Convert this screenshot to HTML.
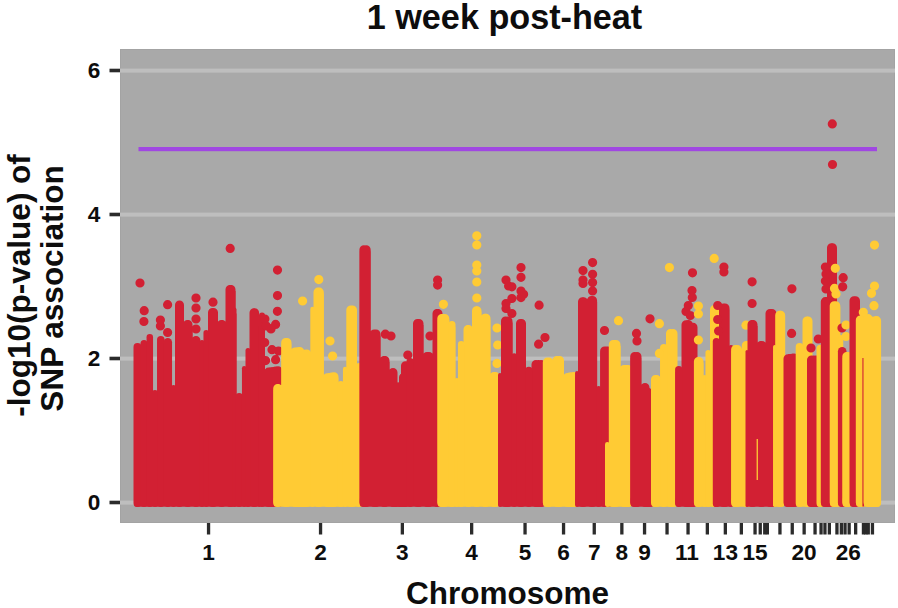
<!DOCTYPE html>
<html><head><meta charset="utf-8"><title>1 week post-heat</title>
<style>
html,body{margin:0;padding:0;background:#fff;}
body{width:898px;height:608px;overflow:hidden;font-family:"Liberation Sans",sans-serif;}
svg{display:block;}
text{font-family:"Liberation Sans",sans-serif;font-weight:bold;fill:#0d0d0d;}
.tk{font-size:22.6px;}
.ti{font-size:34.2px;}
.xl{font-size:31.5px;}
</style></head><body>
<svg width="898" height="608" viewBox="0 0 898 608">
<rect x="0" y="0" width="898" height="608" fill="#fff"/>
<rect x="120" y="49" width="775" height="474" fill="#A9A9A9"/>
<rect x="120.5" y="49.5" width="774.0" height="473.0" fill="none" stroke="#a3a3a3" stroke-width="1"/>
<rect x="120" y="500.6" width="775" height="4" fill="#BEBEBE"/>
<rect x="120" y="356.6" width="775" height="4" fill="#BEBEBE"/>
<rect x="120" y="212.6" width="775" height="4" fill="#BEBEBE"/>
<rect x="120" y="68.6" width="775" height="4" fill="#BEBEBE"/>
<path d="M134 503.5L134 349L134 349L141 349L141 346L147 346L147 340L153 340L153 396L157.5 396L157.5 342L164.5 342L164.5 344L172 344L172 391L175.5 391L175.5 306.5L184 306.5L184 326L192.5 326L192.5 342L200.5 342L200.5 346L204 346L204 336L208.5 336L208.5 314L218 314L218 326L226 326L226 291L235.5 291L235.5 313.5L236.5 313.5L236.5 399L242.5 399L242.5 372L246 372L246 354L250 354L250 314.2L259 314.2L259 331L259.5 331L259.5 318.4L265 318.4L265 372L282 372L282 503.5Z" fill="#D22033"/>
<rect x="134" y="496.5" width="148" height="10.3" rx="2.5" fill="#D22033"/>
<path d="M179.5 305V502.5M179.5 305V502.5M187.5 324.5V502.5M188 324.5V502.5M196 340.5V502.5M196 340.5V502.5M212.5 312.5V502.5M213.5 312.5V502.5M221.5 324.5V502.5M222 324.5V502.5M230 289.5V502.5M231 289.5V502.5M254 312.7V502.5M254.6 312.7V502.5M268.5 372.1V502.5M270.9 371.8V502.5M273.2 371.5V502.5M275.6 371.1V502.5M278 370.8V502.5" stroke="#D22033" stroke-width="9" stroke-linecap="round" fill="none"/>
<path d="M137.5 347V503" stroke="#D22033" stroke-width="8" stroke-linecap="round" fill="none"/>
<path d="M144 343.5V503.5" stroke="#D22033" stroke-width="7" stroke-linecap="round" fill="none"/>
<path d="M149.8 337.2V503.8" stroke="#D22033" stroke-width="6.5" stroke-linecap="round" fill="none"/>
<path d="M155 393V504" stroke="#D22033" stroke-width="6" stroke-linecap="round" fill="none"/>
<path d="M160.8 339.8V503.2" stroke="#D22033" stroke-width="7.5" stroke-linecap="round" fill="none"/>
<path d="M167.8 342.2V502.8" stroke="#D22033" stroke-width="8.5" stroke-linecap="round" fill="none"/>
<path d="M173.5 387.5V504.5" stroke="#D22033" stroke-width="5" stroke-linecap="round" fill="none"/>
<path d="M202 342.5V504.5" stroke="#D22033" stroke-width="5" stroke-linecap="round" fill="none"/>
<path d="M206.2 332.8V504.2" stroke="#D22033" stroke-width="5.5" stroke-linecap="round" fill="none"/>
<path d="M234.5 309.5V505" stroke="#D22033" stroke-width="4" stroke-linecap="round" fill="none"/>
<path d="M239.2 396.8V503.2" stroke="#D22033" stroke-width="7.5" stroke-linecap="round" fill="none"/>
<path d="M244.2 368.2V504.8" stroke="#D22033" stroke-width="4.5" stroke-linecap="round" fill="none"/>
<path d="M248 350.5V504.5" stroke="#D22033" stroke-width="5" stroke-linecap="round" fill="none"/>
<path d="M259.1 325.9V506.1" stroke="#D22033" stroke-width="1.9" stroke-linecap="round" fill="none"/>
<path d="M262 315.4V504" stroke="#D22033" stroke-width="6" stroke-linecap="round" fill="none"/>
<path d="M277.4 311.3h0M275.6 324.4h0M271 328.9h0M264.9 319h0M266.3 326h0M264.7 342.5h0M272 349.7h0M265.6 360.6h0M275.6 359.7h0M278.5 351h0M230.2 248.4h0M140 283h0M144.2 310.7h0M143.9 321.5h0M160.4 320h0M160.4 326h0M167.6 304.7h0M167.6 332.5h0M196 298h0M196 308h0M196 319h0M196 329h0M213 302.2h0M277.5 270.1h0M277.5 295.6h0" stroke="#D22033" stroke-width="9.2" stroke-linecap="round" fill="none"/>
<path d="M273.7 503.5L273.7 390L273.7 390L281.7 390L281.7 344L291.2 344L291.2 354.5L311.2 354.5L311.2 312.8L314.2 312.8L314.2 293.6L323.7 293.6L323.7 378L338.2 378L338.2 387L343.7 387L343.7 372.8L347.2 372.8L347.2 311.5L356.7 311.5L356.7 369L361.7 369L361.7 503.5Z" fill="#FFCB34"/>
<rect x="273.7" y="496.5" width="88.3" height="10.3" rx="2.5" fill="#FFCB34"/>
<path d="M277.7 388.5V502.5M278 388.5V502.5M285.7 342.5V502.5M287 342.5V502.5M295 352V502.5M297.4 351.7V502.5M299.7 351.4V502.5M302.1 354.6V502.5M304.4 354.3V502.5M306.8 354V502.5M318 292.1V502.5M319.3 292.1V502.5M327.3 377.8V502.5M329.5 377.5V502.5M331.8 377.1V502.5M334 376.8V502.5M350.8 310V502.5M352.5 310V502.5" stroke="#FFCB34" stroke-width="9" stroke-linecap="round" fill="none"/>
<path d="M312.4 308.9V504.9" stroke="#FFCB34" stroke-width="4.2" stroke-linecap="round" fill="none"/>
<path d="M340.8 384.2V503.8" stroke="#FFCB34" stroke-width="6.5" stroke-linecap="round" fill="none"/>
<path d="M345.1 369V504.9" stroke="#FFCB34" stroke-width="4.3" stroke-linecap="round" fill="none"/>
<path d="M359.2 366.2V503.8" stroke="#FFCB34" stroke-width="6.5" stroke-linecap="round" fill="none"/>
<path d="M318.8 279.6h0M302.6 301h0M330 341h0M332.6 356h0" stroke="#FFCB34" stroke-width="9.2" stroke-linecap="round" fill="none"/>
<path d="M359.9 503.5L359.9 251.3L359.9 251.3L370.4 251.3L370.4 335.5L380.4 335.5L380.4 362L389.4 362L389.4 374.9L389.9 374.9L389.9 376.1L390.4 376.1L390.4 377.3L390.9 377.3L390.9 378.5L391.4 378.5L391.4 379.7L391.9 379.7L391.9 380.9L392.4 380.9L392.4 382L392.9 382L392.9 383.2L393.4 383.2L393.4 384.4L393.9 384.4L393.9 385.6L394.4 385.6L394.4 386.8L394.9 386.8L394.9 387.9L395.4 387.9L395.4 389.1L395.9 389.1L395.9 390.3L396.4 390.3L396.4 391.5L396.9 391.5L396.9 392.7L397.4 392.7L397.4 393.9L397.9 393.9L397.9 394.2L398.4 394.2L398.4 393L398.9 393L398.9 391.7L399.4 391.7L399.4 390.5L399.9 390.5L399.9 389.3L400.4 389.3L400.4 388.1L400.9 388.1L400.9 386.9L401.4 386.9L401.4 385.7L401.9 385.7L401.9 384.5L402.4 384.5L402.4 383.2L402.9 383.2L402.9 382L403.4 382L403.4 380.8L403.9 380.8L403.9 379.6L404.4 379.6L404.4 378.4L404.9 378.4L404.9 377.2L405.4 377.2L405.4 376L405.9 376L405.9 374.7L406.4 374.7L406.4 373.5L406.9 373.5L406.9 372.3L407.4 372.3L407.4 364L413.9 364L413.9 325L423.4 325L423.4 358L433.4 358L433.4 315L441.9 315L441.9 503.5Z" fill="#D22033"/>
<rect x="359.9" y="496.5" width="82.1" height="10.3" rx="2.5" fill="#D22033"/>
<path d="M363.9 249.8V502.5M366.2 249.8V502.5M374.2 334V502.5M376 334V502.5M384 360.5V502.5M385 360.5V502.5M393 372.5V502.5M394.5 385.5V502.5M396 398.5V502.5M399.5 397.2V502.5M401.5 385.6V502.5M403.5 377.4V502.5M405.5 365.8V502.5M417.5 323.5V502.5M419 323.5V502.5M427 356.5V502.5M429 356.5V502.5M437 313.5V502.5M438 313.5V502.5" stroke="#D22033" stroke-width="9" stroke-linecap="round" fill="none"/>
<path d="M410.2 361.8V503.2" stroke="#D22033" stroke-width="7.5" stroke-linecap="round" fill="none"/>
<path d="M385.3 334.2h0M391 336h0M407.8 355h0M430 336h0M437.6 280.1h0M437.6 285.1h0" stroke="#D22033" stroke-width="9.2" stroke-linecap="round" fill="none"/>
<path d="M437.8 503.5L437.8 320L437.8 320L449.3 320L449.3 327L455.3 327L455.3 384L458.8 384L458.8 347L464.3 347L464.3 331L472.8 331L472.8 312.3L481.3 312.3L481.3 319.8L490.3 319.8L490.3 378L499.3 378L499.3 503.5Z" fill="#FFCB34"/>
<rect x="437.8" y="496.5" width="61.6" height="10.3" rx="2.5" fill="#FFCB34"/>
<path d="M441.8 318.5V502.5M443.3 318.5V502.5M444.8 318.5V502.5M468 329.5V502.5M468.5 329.5V502.5M476.5 310.8V502.5M477 310.8V502.5M485 318.3V502.5M486 318.3V502.5M494 376.5V502.5M495.4 376.5V502.5" stroke="#FFCB34" stroke-width="9" stroke-linecap="round" fill="none"/>
<path d="M451.9 324.6V503.4" stroke="#FFCB34" stroke-width="7.2" stroke-linecap="round" fill="none"/>
<path d="M456.8 380.2V504.8" stroke="#FFCB34" stroke-width="4.5" stroke-linecap="round" fill="none"/>
<path d="M461.2 344.2V503.8" stroke="#FFCB34" stroke-width="6.5" stroke-linecap="round" fill="none"/>
<path d="M443.4 304.3h0M476.8 235.8h0M476.8 245h0M476.8 265h0M476.8 271h0M476.8 282h0M476.8 298h0M497 328h0M497.7 345h0M497 363.4h0" stroke="#FFCB34" stroke-width="9.2" stroke-linecap="round" fill="none"/>
<path d="M498.5 503.5L498.5 379L498.5 379L501.5 379L501.5 322.5L512.5 322.5L512.5 359.4L516.5 359.4L516.5 325L526 325L526 372.8L532 372.8L532 366L545 366L545 503.5Z" fill="#D22033"/>
<rect x="498.5" y="496.5" width="46.5" height="10.3" rx="2.5" fill="#D22033"/>
<path d="M505.5 321V502.5M508 321V502.5M520.5 323.5V502.5M521.5 323.5V502.5M536 364.5V502.5M538.5 364.5V502.5M541 364.5V502.5" stroke="#D22033" stroke-width="9" stroke-linecap="round" fill="none"/>
<path d="M500 375V505" stroke="#D22033" stroke-width="4" stroke-linecap="round" fill="none"/>
<path d="M514.2 356.1V504.2" stroke="#D22033" stroke-width="5.5" stroke-linecap="round" fill="none"/>
<path d="M528.8 370.6V503.2" stroke="#D22033" stroke-width="7.5" stroke-linecap="round" fill="none"/>
<path d="M506 280.1h0M508.6 286h0M511.9 286.8h0M506 303.5h0M506 308.5h0M511.9 298.5h0M511.9 313.5h0M521 267.6h0M521 277.3h0M521 291h0M523.6 294.3h0M521 297.6h0M538.6 344.2h0M545 337.5h0M539.1 305.2h0" stroke="#D22033" stroke-width="9.2" stroke-linecap="round" fill="none"/>
<path d="M543.3 503.5L543.3 363.6L543.3 363.6L553.3 363.6L553.3 362L563.8 362L563.8 378.6L577.8 378.6L577.8 503.5Z" fill="#FFCB34"/>
<rect x="543.3" y="496.5" width="34.7" height="10.3" rx="2.5" fill="#FFCB34"/>
<path d="M547.3 362.1V502.5M549 362.1V502.5M557 360.5V502.5M559.5 360.5V502.5M567.5 377.4V502.5M569.7 377.1V502.5M571.8 376.8V502.5M574 376.5V502.5" stroke="#FFCB34" stroke-width="9" stroke-linecap="round" fill="none"/>
<path d="M575.6 503.5L575.6 377L575.6 377L578.6 377L578.6 303.3L587.6 303.3L587.6 302L597.1 302L597.1 392L600.6 392L600.6 352.4L611.6 352.4L611.6 503.5Z" fill="#D22033"/>
<rect x="575.6" y="496.5" width="36.4" height="10.3" rx="2.5" fill="#D22033"/>
<path d="M582.5 301.8V502.5M583.5 301.8V502.5M591.5 300.5V502.5M592.6 300.5V502.5M604.6 350.9V502.5M606.3 350.9V502.5M608 350.9V502.5" stroke="#D22033" stroke-width="9" stroke-linecap="round" fill="none"/>
<path d="M577 372.9V505.1" stroke="#D22033" stroke-width="3.9" stroke-linecap="round" fill="none"/>
<path d="M598.6 388.5V504.5" stroke="#D22033" stroke-width="5" stroke-linecap="round" fill="none"/>
<path d="M583 270.6h0M583 280h0M583 283.4h0M592.6 262.6h0M592.6 274.3h0M592.6 282.6h0M592.6 291h0M604.5 330.5h0" stroke="#D22033" stroke-width="9.2" stroke-linecap="round" fill="none"/>
<path d="M605.5 503.5L605.5 448L605.5 448L609.5 448L609.5 346L620.5 346L620.5 371L632 371L632 503.5Z" fill="#FFCB34"/>
<rect x="605.5" y="496.5" width="26.5" height="10.3" rx="2.5" fill="#FFCB34"/>
<path d="M613.3 344.5V502.5M614.6 344.5V502.5M616 344.5V502.5M624 369.5V502.5M626 369.5V502.5M628 369.5V502.5" stroke="#FFCB34" stroke-width="9" stroke-linecap="round" fill="none"/>
<path d="M607.4 444.4V504.6" stroke="#FFCB34" stroke-width="4.8" stroke-linecap="round" fill="none"/>
<path d="M618.5 320.7h0" stroke="#FFCB34" stroke-width="9.2" stroke-linecap="round" fill="none"/>
<path d="M630.7 503.5L630.7 358L630.7 358L641.2 358L641.2 389.1L641.7 389.1L641.7 389.5L642.2 389.5L642.2 389.8L642.7 389.8L642.7 390.2L643.2 390.2L643.2 390.5L643.7 390.5L643.7 390.9L644.2 390.9L644.2 391.2L644.7 391.2L644.7 391.6L645.2 391.6L645.2 391.9L645.7 391.9L645.7 392.3L646.2 392.3L646.2 392.6L646.7 392.6L646.7 392.9L647.2 392.9L647.2 393.3L647.7 393.3L647.7 393.6L648.2 393.6L648.2 394L648.7 394L648.7 394.3L649.2 394.3L649.2 394.7L649.7 394.7L649.7 395L650.2 395L650.2 395.4L650.7 395.4L650.7 395.7L651.2 395.7L651.2 396.1L651.7 396.1L651.7 396.4L652.2 396.4L652.2 396.8L652.7 396.8L652.7 397.1L653.2 397.1L653.2 397.4L653.7 397.4L653.7 397.8L653.7 397.8L653.7 503.5Z" fill="#D22033"/>
<rect x="630.7" y="496.5" width="23.3" height="10.3" rx="2.5" fill="#D22033"/>
<path d="M634.7 356.5V502.5M637 356.5V502.5M645 387.5V502.5M647.5 392V502.5M650 396.5V502.5" stroke="#D22033" stroke-width="9" stroke-linecap="round" fill="none"/>
<path d="M636.5 333.4h0M637 341h0M650 318.8h0" stroke="#D22033" stroke-width="9.2" stroke-linecap="round" fill="none"/>
<path d="M651.5 503.5L651.5 381L651.5 381L660.5 381L660.5 354L661 354L661 353.4L661.5 353.4L661.5 352.8L662 352.8L662 352.2L662.5 352.2L662.5 351.5L663 351.5L663 350.9L663.5 350.9L663.5 350.3L664 350.3L664 349.7L664.5 349.7L664.5 349.1L665 349.1L665 348.5L665.5 348.5L665.5 347.8L666 347.8L666 347.2L666.5 347.2L666.5 335L677 335L677 503.5Z" fill="#FFCB34"/>
<rect x="651.5" y="496.5" width="25.5" height="10.3" rx="2.5" fill="#FFCB34"/>
<path d="M655.5 379.5V502.5M656.5 379.5V502.5M670.5 333.5V502.5M673 333.5V502.5" stroke="#FFCB34" stroke-width="9" stroke-linecap="round" fill="none"/>
<path d="M663.8 347.8V503.2" stroke="#FFCB34" stroke-width="7.5" stroke-linecap="round" fill="none"/>
<path d="M659.4 323.7h0M659.4 353.4h0M669.4 267.6h0" stroke="#FFCB34" stroke-width="9.2" stroke-linecap="round" fill="none"/>
<path d="M675.6 503.5L675.6 372L675.6 372L682.1 372L682.1 327.5L696.6 327.5L696.6 503.5Z" fill="#D22033"/>
<rect x="675.6" y="496.5" width="21.4" height="10.3" rx="2.5" fill="#D22033"/>
<path d="M686 324.7V502.5M688.3 324.4V502.5M690.7 327.6V502.5M693 327.3V502.5" stroke="#D22033" stroke-width="9" stroke-linecap="round" fill="none"/>
<path d="M678.8 369.7V503.3" stroke="#D22033" stroke-width="7.4" stroke-linecap="round" fill="none"/>
<path d="M692.5 272.8h0M692 290.5h0M692.3 297.5h0M688.3 305.5h0M686 311.5h0M690.3 315.5h0" stroke="#D22033" stroke-width="9.2" stroke-linecap="round" fill="none"/>
<path d="M694.4 503.5L694.4 363L694.4 363L703.4 363L703.4 381L706.4 381L706.4 356L710.9 356L710.9 311L719.4 311L719.4 503.5Z" fill="#FFCB34"/>
<rect x="694.4" y="496.5" width="25.1" height="10.3" rx="2.5" fill="#FFCB34"/>
<path d="M698.4 361.5V502.5M699 361.5V502.5M714.5 309.5V502.5M715.5 309.5V502.5" stroke="#FFCB34" stroke-width="9" stroke-linecap="round" fill="none"/>
<path d="M704.5 377V505" stroke="#FFCB34" stroke-width="4" stroke-linecap="round" fill="none"/>
<path d="M708.2 352.8V504.2" stroke="#FFCB34" stroke-width="5.5" stroke-linecap="round" fill="none"/>
<path d="M698.4 306h0M698.4 314h0M698.4 340h0M714.2 258.4h0" stroke="#FFCB34" stroke-width="9.2" stroke-linecap="round" fill="none"/>
<path d="M713.3 503.5L713.3 344L713.3 344L719.8 344L719.8 309.5L729.3 309.5L729.3 351L732.8 351L732.8 503.5Z" fill="#D22033"/>
<rect x="713.3" y="496.5" width="19.7" height="10.3" rx="2.5" fill="#D22033"/>
<path d="M723.5 308V502.5M725 308V502.5" stroke="#D22033" stroke-width="9" stroke-linecap="round" fill="none"/>
<path d="M716.4 341.6V503.4" stroke="#D22033" stroke-width="7.2" stroke-linecap="round" fill="none"/>
<path d="M731 347.5V504.5" stroke="#D22033" stroke-width="5" stroke-linecap="round" fill="none"/>
<path d="M723.9 267h0M723.9 272h0M717.7 305.5h0M717.7 319.5h0M718.6 331h0" stroke="#D22033" stroke-width="9.2" stroke-linecap="round" fill="none"/>
<path d="M731.6 503.5L731.6 351L731.6 351L741.6 351L741.6 502.5L742.6 502.5L742.6 347L751.1 347L751.1 503.5Z" fill="#FFCB34"/>
<rect x="731.6" y="496.5" width="19.7" height="10.3" rx="2.5" fill="#FFCB34"/>
<path d="M735.6 349.5V502.5M737.3 349.5V502.5M746.3 345.5V502.5M747.3 345.5V502.5" stroke="#FFCB34" stroke-width="9" stroke-linecap="round" fill="none"/>
<path d="M746 325.2h0" stroke="#FFCB34" stroke-width="9.2" stroke-linecap="round" fill="none"/>
<path d="M746 503.5L746 356L746 356L748 356L748 326L757.5 326L757.5 347L766 347L766 315L776 315L776 503.5Z" fill="#D22033"/>
<rect x="746" y="496.5" width="30" height="10.3" rx="2.5" fill="#D22033"/>
<path d="M752 324.5V502.5M753 324.5V502.5M761 345.5V502.5M762 345.5V502.5M770 313.5V502.5M772 313.5V502.5" stroke="#D22033" stroke-width="9" stroke-linecap="round" fill="none"/>
<path d="M747 351.5V505.5" stroke="#D22033" stroke-width="3" stroke-linecap="round" fill="none"/>
<path d="M752.1 281.8h0M752.1 303.5h0" stroke="#D22033" stroke-width="9.2" stroke-linecap="round" fill="none"/>
<rect x="756.6" y="439" width="1.3" height="41" fill="#FFCB34"/>
<path d="M773.5 503.5L773.5 351L773.5 351L776 351L776 316.7L784.5 316.7L784.5 503.5Z" fill="#FFCB34"/>
<rect x="773.5" y="496.5" width="11.2" height="10.3" rx="2.5" fill="#FFCB34"/>
<path d="M779.7 315.2V502.5M780.7 315.2V502.5" stroke="#FFCB34" stroke-width="9" stroke-linecap="round" fill="none"/>
<path d="M774.8 346.8V505.2" stroke="#FFCB34" stroke-width="3.5" stroke-linecap="round" fill="none"/>
<path d="M784 503.5L784 360L784 360L798 360L798 503.5Z" fill="#D22033"/>
<rect x="784" y="496.5" width="14" height="10.3" rx="2.5" fill="#D22033"/>
<path d="M788 358.8V502.5M790 358.5V502.5M792 358.2V502.5M794 357.9V502.5" stroke="#D22033" stroke-width="9" stroke-linecap="round" fill="none"/>
<path d="M791.6 333.4h0M791.9 288.8h0" stroke="#D22033" stroke-width="9.2" stroke-linecap="round" fill="none"/>
<path d="M796.2 503.5L796.2 349L796.2 349L803.2 349L803.2 322.5L811.7 322.5L811.7 503.5Z" fill="#FFCB34"/>
<rect x="796.2" y="496.5" width="15.8" height="10.3" rx="2.5" fill="#FFCB34"/>
<path d="M807 321V502.5M808 321V502.5" stroke="#FFCB34" stroke-width="9" stroke-linecap="round" fill="none"/>
<path d="M799.6 346.9V503.1" stroke="#FFCB34" stroke-width="7.8" stroke-linecap="round" fill="none"/>
<path d="M807.5 503.5L807.5 361.4L807.5 361.4L820 361.4L820 503.5Z" fill="#D22033"/>
<rect x="807.5" y="496.5" width="12.5" height="10.3" rx="2.5" fill="#D22033"/>
<path d="M811.5 359.9V502.5M813.8 359.9V502.5M816 359.9V502.5" stroke="#D22033" stroke-width="9" stroke-linecap="round" fill="none"/>
<path d="M811 348h0M818.3 339h0" stroke="#D22033" stroke-width="9.2" stroke-linecap="round" fill="none"/>
<path d="M817 503.5L817 350.7L817 350.7L824 350.7L824 503.5Z" fill="#FFCB34"/>
<rect x="817" y="496.5" width="7" height="10.3" rx="2.5" fill="#FFCB34"/>
<path d="M820.5 348.7V503" stroke="#FFCB34" stroke-width="8" stroke-linecap="round" fill="none"/>
<path d="M821.3 503.5L821.3 301.8L821.3 301.8L827.8 301.8L827.8 249.3L836.3 249.3L836.3 503.5Z" fill="#D22033"/>
<rect x="821.3" y="496.5" width="15.2" height="10.3" rx="2.5" fill="#D22033"/>
<path d="M825.3 301.6V502.5M827.5 301.3V502.5M829.8 300.9V502.5M832 300.6V502.5M831.5 247.8V502.5M832.5 247.8V502.5" stroke="#D22033" stroke-width="9" stroke-linecap="round" fill="none"/>
<path d="M825.4 267h0M826 274h0M825.4 281h0M826 289h0" stroke="#D22033" stroke-width="9.2" stroke-linecap="round" fill="none"/>
<path d="M830.2 503.5L830.2 307.2L830.2 307.2L840.2 307.2L840.2 341L842.7 341L842.7 503.5Z" fill="#FFCB34"/>
<rect x="830.2" y="496.5" width="12.5" height="10.3" rx="2.5" fill="#FFCB34"/>
<path d="M834.2 305.7V502.5M835.8 305.7V502.5" stroke="#FFCB34" stroke-width="9" stroke-linecap="round" fill="none"/>
<path d="M840.9 337.4V504.6" stroke="#FFCB34" stroke-width="4.7" stroke-linecap="round" fill="none"/>
<path d="M835.3 268.3h0M834.5 288.4h0M836 294h0" stroke="#FFCB34" stroke-width="9.2" stroke-linecap="round" fill="none"/>
<path d="M838.4 503.5L838.4 353L838.4 353L845.9 353L845.9 503.5Z" fill="#D22033"/>
<rect x="838.4" y="496.5" width="7.6" height="10.3" rx="2.5" fill="#D22033"/>
<path d="M842.2 351.3V502.7" stroke="#D22033" stroke-width="8.6" stroke-linecap="round" fill="none"/>
<path d="M843.2 277.7h0M842.7 286.8h0M842 328h0" stroke="#D22033" stroke-width="9.2" stroke-linecap="round" fill="none"/>
<path d="M842.8 503.5L842.8 358L842.8 358L851.8 358L851.8 503.5Z" fill="#FFCB34"/>
<rect x="842.8" y="496.5" width="9.2" height="10.3" rx="2.5" fill="#FFCB34"/>
<path d="M846.8 356.5V502.5M848 356.5V502.5" stroke="#FFCB34" stroke-width="9" stroke-linecap="round" fill="none"/>
<path d="M846 325h0M846 336.5h0" stroke="#FFCB34" stroke-width="9.2" stroke-linecap="round" fill="none"/>
<path d="M850 503.5L850 302.2L850 302.2L859.5 302.2L859.5 503.5Z" fill="#D22033"/>
<rect x="850" y="496.5" width="9.5" height="10.3" rx="2.5" fill="#D22033"/>
<path d="M854 300.7V502.5M855.5 300.7V502.5" stroke="#D22033" stroke-width="9" stroke-linecap="round" fill="none"/>
<path d="M856.3 503.5L856.3 321.5L856.3 321.5L865.8 321.5L865.8 503.5Z" fill="#FFCB34"/>
<rect x="856.3" y="496.5" width="9.7" height="10.3" rx="2.5" fill="#FFCB34"/>
<path d="M860.3 320V502.5M862 320V502.5" stroke="#FFCB34" stroke-width="9" stroke-linecap="round" fill="none"/>
<rect x="862.4" y="358" width="1.8" height="148.5" fill="#D22033"/>
<path d="M864 503.5L864 321.5L864 321.5L880.5 321.5L880.5 503.5Z" fill="#FFCB34"/>
<rect x="864" y="496.5" width="16.6" height="10.3" rx="2.5" fill="#FFCB34"/>
<path d="M868 318.4V502.5M870.1 321.6V502.5M872.3 321.3V502.5M874.5 321V502.5M876.6 320.6V502.5" stroke="#FFCB34" stroke-width="9" stroke-linecap="round" fill="none"/>
<path d="M874.5 286h0M871.5 293.3h0M874 305.7h0M863.3 312.3h0M874.5 245.1h0" stroke="#FFCB34" stroke-width="9.2" stroke-linecap="round" fill="none"/>
<path d="M832.3 123.9h0M832.5 164.5h0" stroke="#D22033" stroke-width="9.2" stroke-linecap="round" fill="none"/>
<rect x="138.5" y="147" width="738.5" height="4.2" fill="#A047E2"/>
<rect x="109.5" y="500.7" width="10.5" height="3.6" fill="#2b2b2b"/>
<text x="100.3" y="510.2" text-anchor="end" class="tk">0</text>
<rect x="109.5" y="356.7" width="10.5" height="3.6" fill="#2b2b2b"/>
<text x="100.3" y="366.2" text-anchor="end" class="tk">2</text>
<rect x="109.5" y="212.7" width="10.5" height="3.6" fill="#2b2b2b"/>
<text x="100.3" y="222.2" text-anchor="end" class="tk">4</text>
<rect x="109.5" y="68.7" width="10.5" height="3.6" fill="#2b2b2b"/>
<text x="100.3" y="78.2" text-anchor="end" class="tk">6</text>
<rect x="206.9" y="523" width="3.3" height="11.5" fill="#2b2b2b"/>
<rect x="318.9" y="523" width="3.3" height="11.5" fill="#2b2b2b"/>
<rect x="400.7" y="523" width="3.3" height="11.5" fill="#2b2b2b"/>
<rect x="470.0" y="523" width="3.3" height="11.5" fill="#2b2b2b"/>
<rect x="523.4" y="523" width="3.3" height="11.5" fill="#2b2b2b"/>
<rect x="561.9" y="523" width="3.3" height="11.5" fill="#2b2b2b"/>
<rect x="592.6" y="523" width="3.3" height="11.5" fill="#2b2b2b"/>
<rect x="620.2" y="523" width="3.3" height="11.5" fill="#2b2b2b"/>
<rect x="642.9" y="523" width="3.3" height="11.5" fill="#2b2b2b"/>
<rect x="665.4" y="523" width="3.3" height="11.5" fill="#2b2b2b"/>
<rect x="686.4" y="523" width="3.3" height="11.5" fill="#2b2b2b"/>
<rect x="705.7" y="523" width="3.3" height="11.5" fill="#2b2b2b"/>
<rect x="723.7" y="523" width="3.3" height="11.5" fill="#2b2b2b"/>
<rect x="739.7" y="523" width="3.3" height="11.5" fill="#2b2b2b"/>
<rect x="753.4" y="523" width="3.3" height="11.5" fill="#2b2b2b"/>
<rect x="758.6" y="523" width="3.3" height="11.5" fill="#2b2b2b"/>
<rect x="763.1" y="523" width="3.3" height="11.5" fill="#2b2b2b"/>
<rect x="765.7" y="523" width="3.3" height="11.5" fill="#2b2b2b"/>
<rect x="778.3" y="523" width="3.3" height="11.5" fill="#2b2b2b"/>
<rect x="790.6" y="523" width="3.3" height="11.5" fill="#2b2b2b"/>
<rect x="802.5" y="523" width="3.3" height="11.5" fill="#2b2b2b"/>
<rect x="813.4" y="523" width="3.3" height="11.5" fill="#2b2b2b"/>
<rect x="819.4" y="523" width="3.3" height="11.5" fill="#2b2b2b"/>
<rect x="823.3" y="523" width="3.3" height="11.5" fill="#2b2b2b"/>
<rect x="827.7" y="523" width="3.3" height="11.5" fill="#2b2b2b"/>
<rect x="835.3" y="523" width="3.3" height="11.5" fill="#2b2b2b"/>
<rect x="839.7" y="523" width="3.3" height="11.5" fill="#2b2b2b"/>
<rect x="843.4" y="523" width="3.3" height="11.5" fill="#2b2b2b"/>
<rect x="847.5" y="523" width="3.3" height="11.5" fill="#2b2b2b"/>
<rect x="854.0" y="523" width="3.3" height="11.5" fill="#2b2b2b"/>
<rect x="861.8" y="523" width="3.3" height="11.5" fill="#2b2b2b"/>
<rect x="864.2" y="523" width="3.3" height="11.5" fill="#2b2b2b"/>
<rect x="866.6" y="523" width="3.3" height="11.5" fill="#2b2b2b"/>
<rect x="870.8" y="523" width="3.3" height="11.5" fill="#2b2b2b"/>
<text x="208.5" y="560.2" text-anchor="middle" class="tk">1</text>
<text x="320.5" y="560.2" text-anchor="middle" class="tk">2</text>
<text x="402.3" y="560.2" text-anchor="middle" class="tk">3</text>
<text x="471.6" y="560.2" text-anchor="middle" class="tk">4</text>
<text x="525.0" y="560.2" text-anchor="middle" class="tk">5</text>
<text x="563.5" y="560.2" text-anchor="middle" class="tk">6</text>
<text x="594.2" y="560.2" text-anchor="middle" class="tk">7</text>
<text x="621.8" y="560.2" text-anchor="middle" class="tk">8</text>
<text x="644.5" y="560.2" text-anchor="middle" class="tk">9</text>
<text x="686.9" y="560.2" text-anchor="middle" class="tk">11</text>
<text x="725.4" y="560.2" text-anchor="middle" class="tk">13</text>
<text x="755.1" y="560.2" text-anchor="middle" class="tk">15</text>
<text x="804.0" y="560.2" text-anchor="middle" class="tk">20</text>
<text x="848.2" y="560.2" text-anchor="middle" class="tk">26</text>
<text x="504.5" y="28.5" text-anchor="middle" class="ti">1 week post-heat</text>
<text x="507.6" y="604.2" text-anchor="middle" class="xl">Chromosome</text>
<text transform="translate(29.6 285.4) rotate(-90)" text-anchor="middle" class="xl">-log10(p-value) of</text>
<text transform="translate(63.1 288.5) rotate(-90)" text-anchor="middle" class="xl">SNP association</text>
</svg>
</body></html>
